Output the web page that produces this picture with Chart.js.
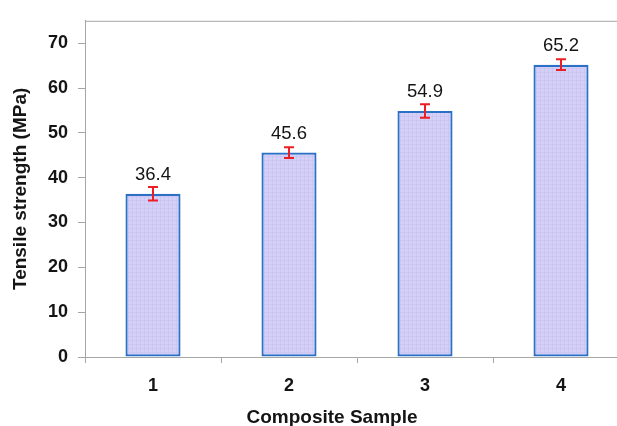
<!DOCTYPE html>
<html>
<head>
<meta charset="utf-8">
<script src="https://cdn.jsdelivr.net/npm/chart.js@4/dist/chart.umd.min.js"></script>
<style>
  html, body { margin: 0; padding: 0; background: #fff; overflow: hidden; }
  #wrap { position: absolute; left: 0; top: 0; width: 632px; height: 426px; }
</style>
</head>
<body>
<div id="wrap"><canvas id="c" width="632" height="426"></canvas></div>
<script>
// Tensile strength of the composite samples (MPa) with standard deviation
const samples = ['1', '2', '3', '4'];
const strength = [36.4, 45.6, 54.9, 65.2];
const deviation = [1.5, 1.2, 1.5, 1.2];
const yTicks = [0, 10, 20, 30, 40, 50, 60, 70];

const FONT = '"Liberation Sans", Arial, sans-serif';
const AXIS_GREY = '#a6a6a6';

// light lavender fill with a faint woven grid
function makePattern() {
  const p = document.createElement('canvas');
  p.width = 4; p.height = 4;
  const g = p.getContext('2d');
  g.fillStyle = '#d4d0f7';
  g.fillRect(0, 0, 4, 4);
  g.fillStyle = '#cbc6f3';
  g.fillRect(0, 0, 4, 1);
  g.fillRect(0, 0, 1, 4);
  return g.createPattern(p, 'repeat');
}
const ctx = document.getElementById('c').getContext('2d');

const frameAndLabels = {
  id: 'frameAndLabels',
  afterDatasetsDraw(chart) {
    const { ctx, chartArea: a, scales: { x, y } } = chart;
    ctx.save();
    // top and right edges of the plot frame
    ctx.strokeStyle = AXIS_GREY;
    ctx.lineWidth = 1;
    ctx.beginPath();
    ctx.moveTo(a.left, a.top + 0.5);
    ctx.lineTo(a.right - 0.5, a.top + 0.5);
    ctx.lineTo(a.right - 0.5, a.bottom);
    ctx.stroke();

    // error bars
    ctx.strokeStyle = '#ee1c25';
    ctx.lineWidth = 2;
    strength.forEach((v, i) => {
      const cx = Math.round(x.getPixelForValue(i));
      const hi = y.getPixelForValue(v + deviation[i]);
      const lo = y.getPixelForValue(v - deviation[i]);
      ctx.beginPath();
      ctx.moveTo(cx, hi); ctx.lineTo(cx, lo);
      ctx.moveTo(cx - 5, hi); ctx.lineTo(cx + 5, hi);
      ctx.moveTo(cx - 5, lo); ctx.lineTo(cx + 5, lo);
      ctx.stroke();
    });

    // value labels above the bars
    ctx.fillStyle = '#141414';
    ctx.font = '18.5px ' + FONT;
    ctx.textAlign = 'center';
    ctx.textBaseline = 'middle';
    strength.forEach((v, i) => {
      ctx.fillText(v.toFixed(1), x.getPixelForValue(i), y.getPixelForValue(v) - 19);
    });

    // axis titles
    ctx.font = 'bold 19px ' + FONT;
    ctx.fillText('Composite Sample', 332, 418);
    ctx.translate(21, (a.top + a.bottom) / 2);
    ctx.rotate(-Math.PI / 2);
    ctx.fillText('Tensile strength (MPa)', 0, 0);
    ctx.restore();
  }
};

new Chart(ctx, {
  type: 'bar',
  data: {
    labels: samples,
    datasets: [{
      data: strength,
      backgroundColor: makePattern(),
      borderColor: '#2a70c4',
      borderWidth: 2.2,
      borderSkipped: false,
      barPercentage: 0.405,
      categoryPercentage: 1
    }]
  },
  options: {
    responsive: false,
    animation: false,
    devicePixelRatio: 1,
    layout: { padding: { left: 0, top: 12, right: 3, bottom: 0 } },
    plugins: { legend: { display: false }, tooltip: { enabled: false } },
    scales: {
      x: {
        afterFit(s) { s.height = 69; },
        grid: { offset: true, drawOnChartArea: false, color: AXIS_GREY, tickLength: 6 },
        border: { color: AXIS_GREY, width: 1 },
        ticks: { color: '#141414', font: { family: FONT, size: 18, weight: 'bold' }, padding: 12 }
      },
      y: {
        min: 0,
        max: 75,
        afterFit(s) { s.width = 85; },
        afterBuildTicks(s) { s.ticks = yTicks.map(v => ({ value: v })); },
        grid: { drawOnChartArea: false, color: AXIS_GREY, tickLength: 7 },
        border: { color: AXIS_GREY, width: 1 },
        ticks: { color: '#141414', font: { family: FONT, size: 18, weight: 'bold' }, padding: 10 }
      }
    }
  },
  plugins: [frameAndLabels]
});
</script>
</body>
</html>
